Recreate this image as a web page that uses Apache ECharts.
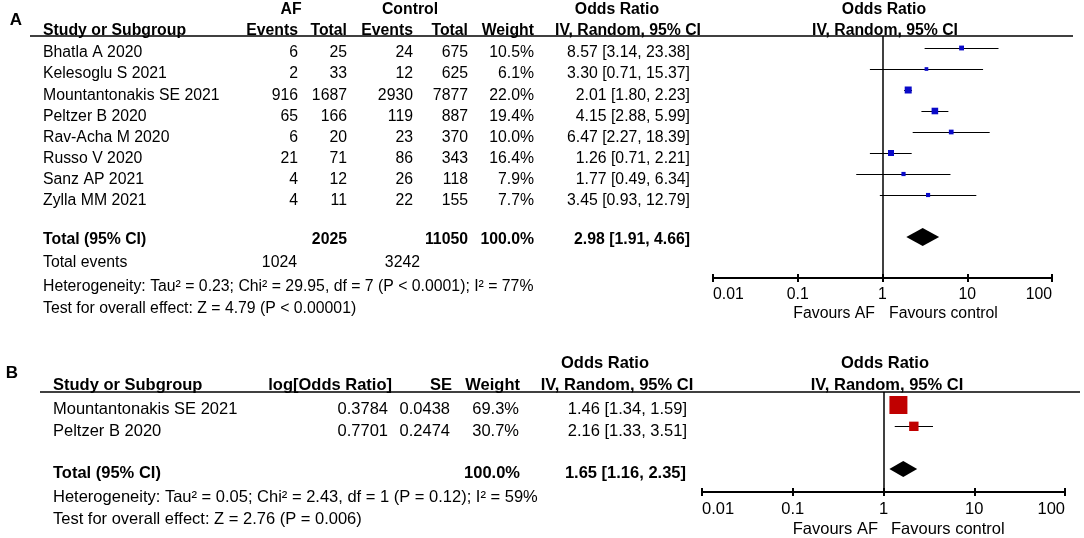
<!DOCTYPE html>
<html>
<head>
<meta charset="utf-8">
<script src="https://cdn.jsdelivr.net/npm/echarts@6/dist/echarts.min.js"></script>
<style>
html,body{margin:0;padding:0;background:#fff;}
#chart{width:1084px;height:538px;}
</style>
</head>
<body>
<div id="chart"></div>
<script>
// ---------- DATA (panel A) ----------
var studiesA = ['Bhatla A 2020','Kelesoglu S 2021','Mountantonakis SE 2021','Peltzer B 2020','Rav-Acha M 2020','Russo V 2020','Sanz AP 2021','Zylla MM 2021'];
var afEventsA = [6, 2, 916, 65, 6, 21, 4, 4];
var afTotalA = [25, 33, 1687, 166, 20, 71, 12, 11];
var ctrlEventsA = [24, 12, 2930, 119, 23, 86, 26, 22];
var ctrlTotalA = [675, 625, 7877, 887, 370, 343, 118, 155];
var weightA = [10.5, 6.1, 22.0, 19.4, 10.0, 16.4, 7.9, 7.7];
var orA = [8.57, 3.30, 2.01, 4.15, 6.47, 1.26, 1.77, 3.45];
var loA = [3.14, 0.71, 1.80, 2.88, 2.27, 0.71, 0.49, 0.93];
var hiA = [23.38, 15.37, 2.23, 5.99, 18.39, 2.21, 6.34, 12.79];
var pooledA = [2.98, 1.91, 4.66];
var totalsA = {afTotal: 2025, ctrlTotal: 11050, afEvents: 1024, ctrlEvents: 3242, weight: 100.0};
var hetA = 'Heterogeneity: Tau² = 0.23; Chi² = 29.95, df = 7 (P < 0.0001); I² = 77%';
var testA = 'Test for overall effect: Z = 4.79 (P < 0.00001)';

// ---------- DATA (panel B) ----------
var studiesB = ['Mountantonakis SE 2021', 'Peltzer B 2020'];
var logOrB = ['0.3784', '0.7701'];
var seB = ['0.0438', '0.2474'];
var weightB = [69.3, 30.7];
var orB = [1.46, 2.16];
var loB = [1.34, 1.33];
var hiB = [1.59, 3.51];
var pooledB = [1.65, 1.16, 2.35];
var totalWeightB = 100.0;
var hetB = 'Heterogeneity: Tau² = 0.05; Chi² = 2.43, df = 1 (P = 0.12); I² = 59%';
var testB = 'Test for overall effect: Z = 2.76 (P = 0.006)';

// ---------- axis tick labels ----------
var tickValues = [0.01, 0.1, 1, 10, 100];
var tickLabels = ['0.01', '0.1', '1', '10', '100'];

// ---------- helpers ----------
var FONT = '"Liberation Sans", Arial, Helvetica, sans-serif';
function fmt2(v){ return v.toFixed(2); }
function ciText(o,l,h){ return fmt2(o) + ' [' + fmt2(l) + ', ' + fmt2(h) + ']'; }
function pct(w){ return w.toFixed(1) + '%'; }

var graphics = [];
function txt(s, x, y, align, size, bold){
  graphics.push({
    type: 'text', x: x, y: y, silent: true,
    style: {text: String(s), fill: '#000', font: (bold ? 'bold ' : '') + size + 'px ' + FONT,
      textAlign: align, textVerticalAlign: 'middle'}
  });
}
function hline(x1, x2, y, w){
  graphics.push({type:'line', silent:true, shape:{x1:x1,y1:y,x2:x2,y2:y}, style:{stroke:'#000', lineWidth:w}});
}

// ---------- Panel A table ----------
var fsA = 15.8;
txt('A', 16, 20, 'center', 17, true);
txt('AF', 291, 10, 'center', fsA, true);
txt('Control', 410, 10, 'center', fsA, true);
txt('Odds Ratio', 617, 10, 'center', fsA, true);
txt('Odds Ratio', 884, 10, 'center', fsA, true);
var hA = 30.5;
txt('Study or Subgroup', 43, hA, 'left', fsA, true);
txt('Events', 298, hA, 'right', fsA, true);
txt('Total', 347, hA, 'right', fsA, true);
txt('Events', 413, hA, 'right', fsA, true);
txt('Total', 468, hA, 'right', fsA, true);
txt('Weight', 534, hA, 'right', fsA, true);
txt('IV, Random, 95% CI', 628, hA, 'center', fsA, true);
txt('IV, Random, 95% CI', 885, hA, 'center', fsA, true);
hline(30, 1073, 36, 1.6);
studiesA.forEach(function(s, i){
  var y = 53 + 21.1 * i;
  txt(s, 43, y, 'left', fsA, false);
  txt(afEventsA[i], 298, y, 'right', fsA, false);
  txt(afTotalA[i], 347, y, 'right', fsA, false);
  txt(ctrlEventsA[i], 413, y, 'right', fsA, false);
  txt(ctrlTotalA[i], 468, y, 'right', fsA, false);
  txt(pct(weightA[i]), 534, y, 'right', fsA, false);
  txt(ciText(orA[i], loA[i], hiA[i]), 690, y, 'right', fsA, false);
});
txt('Total (95% CI)', 43, 240, 'left', fsA, true);
txt(totalsA.afTotal, 347, 240, 'right', fsA, true);
txt(totalsA.ctrlTotal, 468, 240, 'right', fsA, true);
txt(pct(totalsA.weight), 534, 240, 'right', fsA, true);
txt(ciText(pooledA[0], pooledA[1], pooledA[2]), 690, 240, 'right', fsA, true);
txt('Total events', 43, 263, 'left', fsA, false);
txt(totalsA.afEvents, 297, 263, 'right', fsA, false);
txt(totalsA.ctrlEvents, 420, 263, 'right', fsA, false);
txt(hetA, 43, 287, 'left', fsA, false);
txt(testA, 43, 309, 'left', fsA, false);
txt('Favours AF', 875, 314, 'right', fsA, false);
txt('Favours control', 889, 314, 'left', fsA, false);

// ---------- Panel B table ----------
var fsB = 16.5;
txt('B', 12, 373, 'center', 17, true);
txt('Odds Ratio', 605, 363, 'center', fsB, true);
txt('Odds Ratio', 885, 363, 'center', fsB, true);
var hB = 385;
txt('Study or Subgroup', 53, hB, 'left', fsB, true);
txt('log[Odds Ratio]', 392, hB, 'right', fsB, true);
txt('SE', 452, hB, 'right', fsB, true);
txt('Weight', 520, hB, 'right', fsB, true);
txt('IV, Random, 95% CI', 617, hB, 'center', fsB, true);
txt('IV, Random, 95% CI', 887, hB, 'center', fsB, true);
hline(40, 1080, 392, 1.6);
studiesB.forEach(function(s, i){
  var y = 409 + 22 * i;
  txt(s, 53, y, 'left', fsB, false);
  txt(logOrB[i], 388, y, 'right', fsB, false);
  txt(seB[i], 450, y, 'right', fsB, false);
  txt(pct(weightB[i]), 519, y, 'right', fsB, false);
  txt(ciText(orB[i], loB[i], hiB[i]), 687, y, 'right', fsB, false);
});
txt('Total (95% CI)', 53, 473, 'left', fsB, true);
txt(pct(totalWeightB), 520, 473, 'right', fsB, true);
txt(ciText(pooledB[0], pooledB[1], pooledB[2]), 686, 473, 'right', fsB, true);
txt(hetB, 53, 497, 'left', fsB, false);
txt(testB, 53, 519, 'left', fsB, false);
txt('Favours AF', 878, 529, 'right', fsB, false);
txt('Favours control', 891, 529, 'left', fsB, false);

// ---------- plot data built from arrays ----------
var rowsA = orA.map(function(v, i){ return [v, loA[i], hiA[i], i, weightA[i]]; });
var diamondA = [[pooledA[0], pooledA[1], pooledA[2], 9]];
var rowsB = orB.map(function(v, i){ return [v, loB[i], hiB[i], i, weightB[i]]; });
var diamondB = [[pooledB[0], pooledB[1], pooledB[2], 3]];

function studyRenderer(sizeFn, color){
  return function(params, api){
    var o = api.value(0), l = api.value(1), h = api.value(2), r = api.value(3), w = api.value(4);
    var p = api.coord([o, r]), a = api.coord([l, r]), b = api.coord([h, r]);
    var s = sizeFn(w);
    var ly = Math.round(p[1]) + 0.5;
    return {type:'group', children:[
      {type:'line', shape:{x1:a[0], y1:ly, x2:b[0], y2:ly}, style:{stroke:'#000', lineWidth:1}},
      {type:'rect', shape:{x:p[0]-s/2, y:p[1]-s/2, width:s, height:s}, style:{fill:color}}
    ]};
  };
}
function diamondRenderer(half){
  return function(params, api){
    var o = api.value(0), l = api.value(1), h = api.value(2), r = api.value(3);
    var p = api.coord([o, r]), a = api.coord([l, r]), b = api.coord([h, r]);
    return {type:'polygon', shape:{points:[[a[0],p[1]],[p[0],p[1]-half],[b[0],p[1]],[p[0],p[1]+half]]},
      style:{fill:'#000'}};
  };
}
function labelFmt(v){
  var k = Math.round(Math.log(v) / Math.LN10) + 2;
  return tickLabels[k] !== undefined ? tickLabels[k] : '';
}
function mainX(grid, fs, margin){
  return {type:'log', logBase:10, gridIndex:grid, min:tickValues[0], max:tickValues[tickValues.length-1],
    position:'bottom',
    axisLine:{show:true, onZero:false, lineStyle:{color:'#000', width:2}},
    axisTick:{show:true, inside:false, length:4, lineStyle:{color:'#000', width:2}},
    axisLabel:{show:true, color:'#000', fontSize:fs, fontFamily:FONT, margin:margin, formatter:labelFmt,
      alignMinLabel:'left', alignMaxLabel:'right'},
    splitLine:{show:false}, minorTick:{show:false}};
}
function innerX(grid){
  return {type:'log', logBase:10, gridIndex:grid, min:tickValues[0], max:tickValues[tickValues.length-1],
    position:'bottom',
    axisLine:{show:false, onZero:false},
    axisTick:{show:true, inside:true, length:4, lineStyle:{color:'#000', width:2}},
    axisLabel:{show:false}, splitLine:{show:false}};
}
var vline = {silent:true, symbol:['none','none'], label:{show:false},
  lineStyle:{color:'#000', width:1.5, type:'solid'}, data:[{xAxis:1}]};

var option = {
  backgroundColor:'#fff',
  animation:false,
  grid:[
    {left:713, width:339, top:36, height:242},
    {left:702, width:363, top:392, height:100}
  ],
  xAxis:[mainX(0, fsA, 9), innerX(0), mainX(1, fsB, 9), innerX(1)],
  yAxis:[
    {type:'value', gridIndex:0, inverse:true, min:-0.5714, max:10.952, show:false},
    {type:'value', gridIndex:1, inverse:true, min:-0.609, max:4.078, show:false}
  ],
  series:[
    {type:'custom', xAxisIndex:0, yAxisIndex:0, data:rowsA, encode:{x:[0,1,2], y:3},
      renderItem: studyRenderer(function(w){ return 7 * Math.sqrt(w / 22); }, '#0a0ac8'),
      markLine: vline, clip:false, z:3},
    {type:'custom', xAxisIndex:0, yAxisIndex:0, data:diamondA, encode:{x:[0,1,2], y:3},
      renderItem: diamondRenderer(9), z:3},
    {type:'custom', xAxisIndex:2, yAxisIndex:1, data:rowsB, encode:{x:[0,1,2], y:3},
      renderItem: studyRenderer(function(w){ return 18 * Math.pow(w / 69.3, 0.8); }, '#c00000'),
      markLine: vline, clip:false, z:3},
    {type:'custom', xAxisIndex:2, yAxisIndex:1, data:diamondB, encode:{x:[0,1,2], y:3},
      renderItem: diamondRenderer(8), z:3}
  ],
  graphic: graphics
};
var chart = echarts.init(document.getElementById('chart'), null, {renderer:'canvas'});
chart.setOption(option);
</script>
</body>
</html>
